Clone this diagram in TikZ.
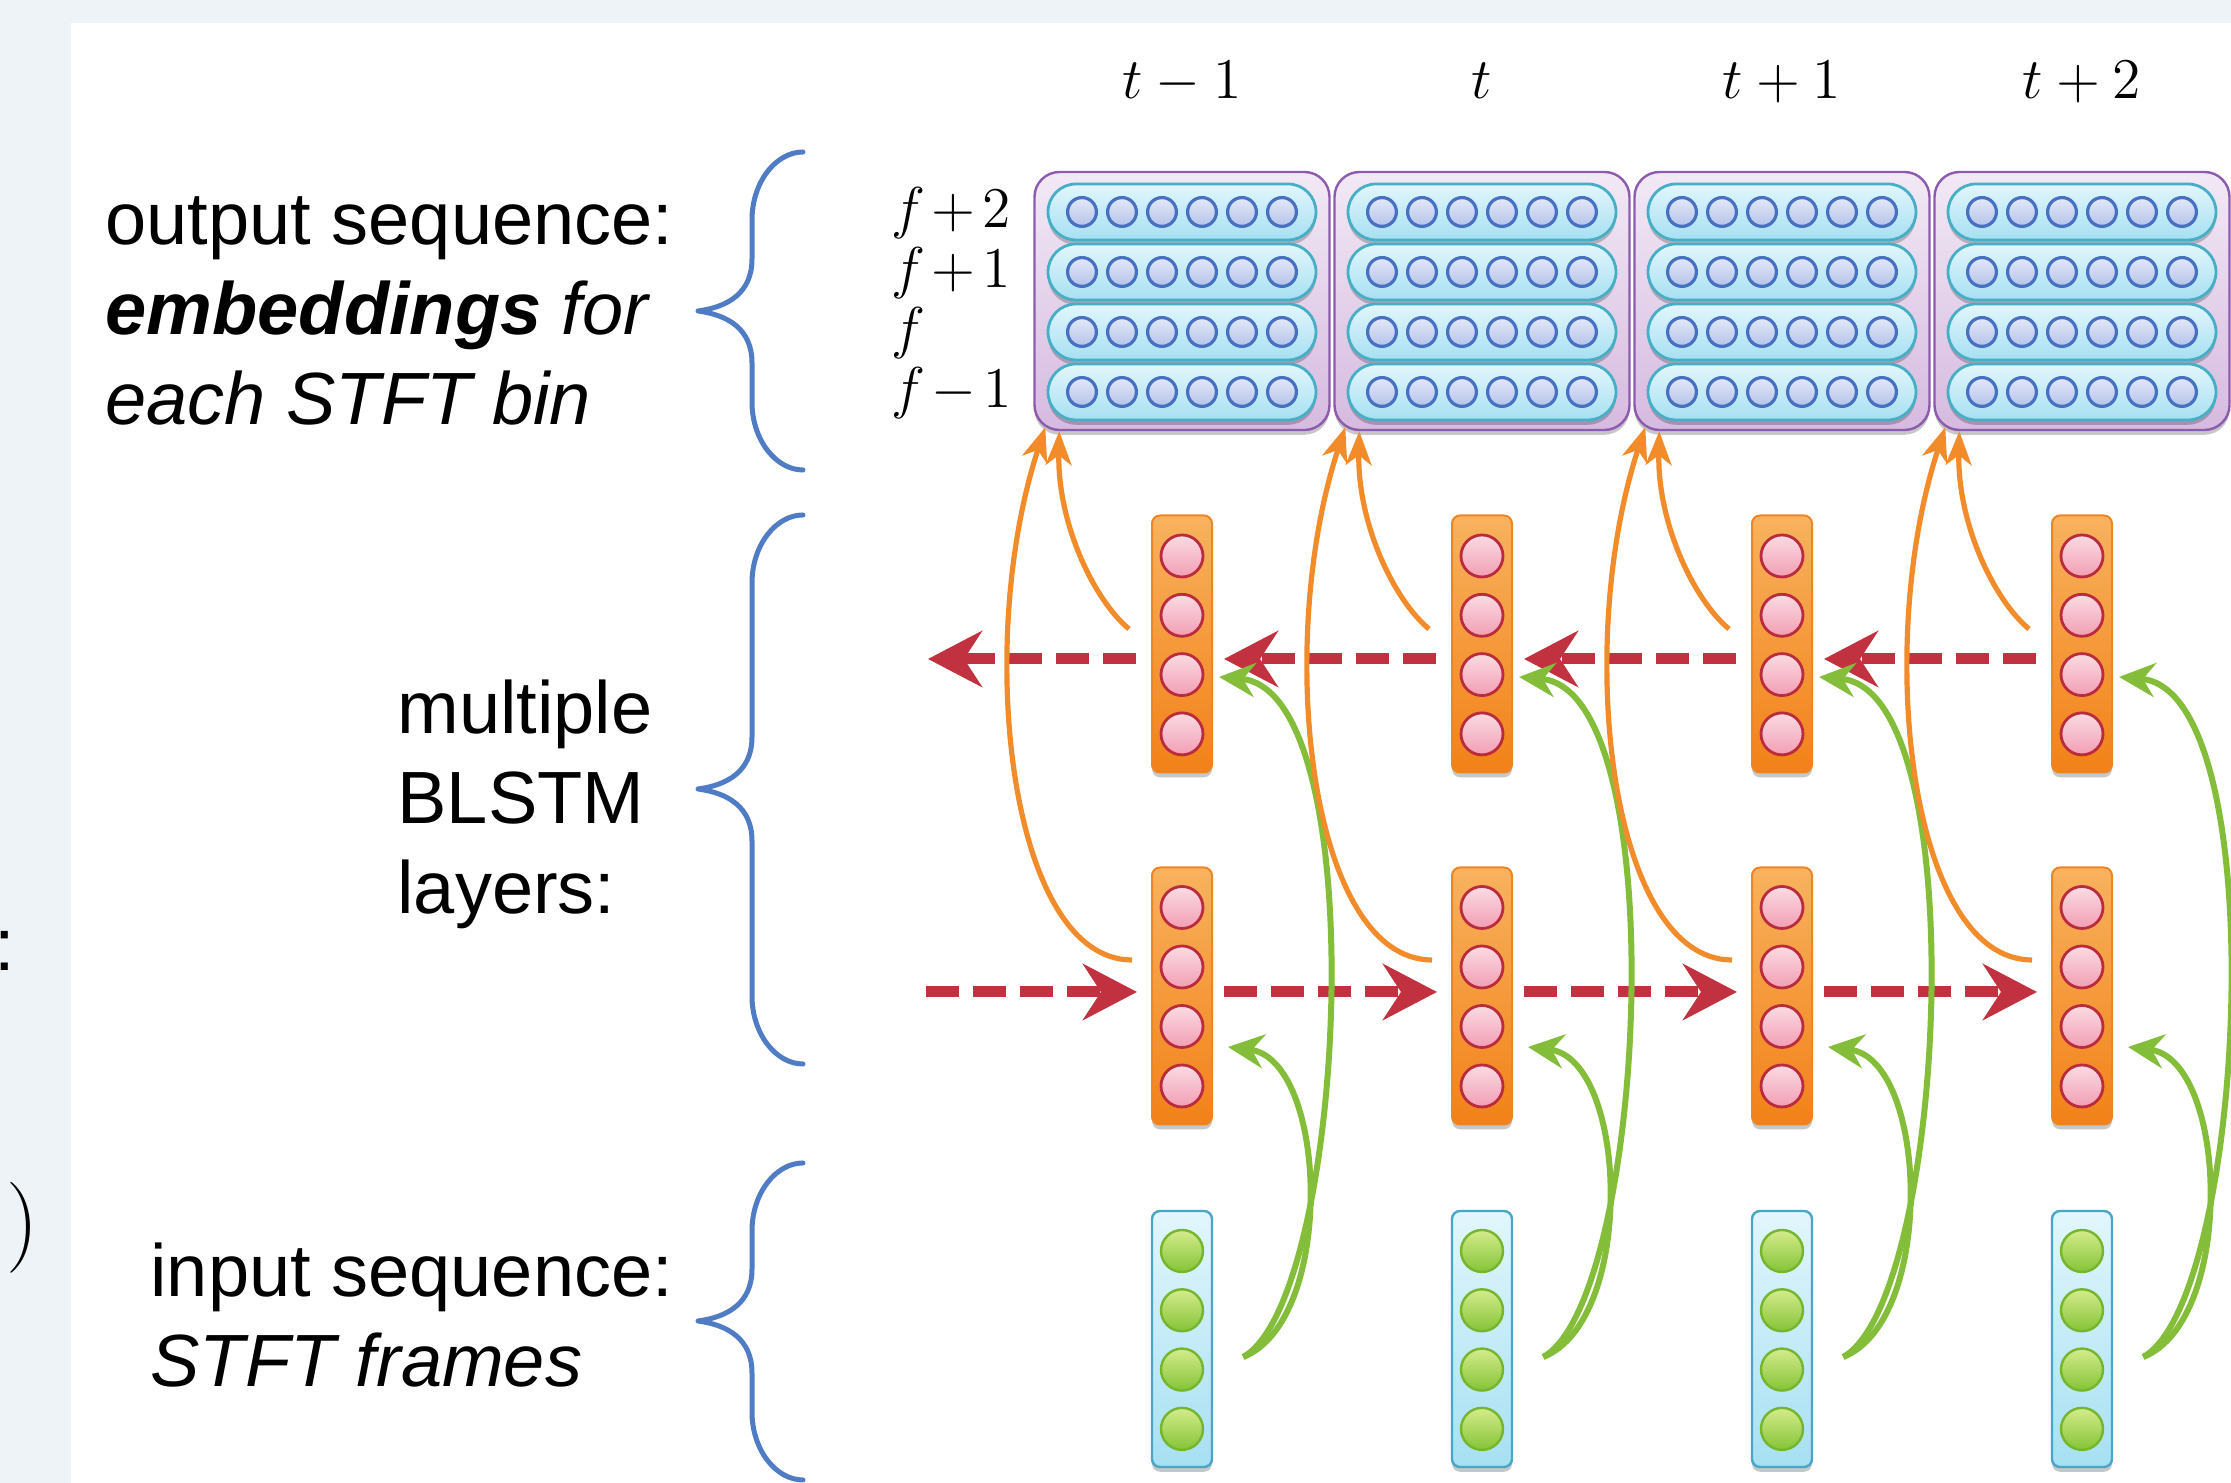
\documentclass[tikz,border=0pt]{standalone}
\usepackage[no-math]{fontspec}
\newfontfamily\labelfont{Liberation Sans}
\usetikzlibrary{arrows.meta,calc,shadows}

\definecolor{slidegray}{RGB}{237,243,247}
\definecolor{boxpurple}{RGB}{141,91,174}
\definecolor{boxtop}{RGB}{242,233,245}
\definecolor{boxbot}{RGB}{214,186,224}
\definecolor{pillline}{RGB}{70,175,198}
\definecolor{pilltop}{RGB}{226,246,252}
\definecolor{pillbot}{RGB}{166,224,242}
\definecolor{embline}{RGB}{70,112,192}
\definecolor{embtop}{RGB}{228,233,249}
\definecolor{embbot}{RGB}{180,195,234}
\definecolor{barline}{RGB}{238,132,34}
\definecolor{bartop}{RGB}{248,178,94}
\definecolor{barbot}{RGB}{242,129,24}
\definecolor{unitline}{RGB}{185,43,61}
\definecolor{unittop}{RGB}{251,219,227}
\definecolor{unitbot}{RGB}{242,158,180}
\definecolor{inline}{RGB}{74,166,199}
\definecolor{greenline}{RGB}{118,181,46}
\definecolor{greentop}{RGB}{212,236,140}
\definecolor{greenbot}{RGB}{132,196,54}
\definecolor{redarrow}{RGB}{193,49,63}
\definecolor{orangearrow}{RGB}{242,139,42}
\definecolor{greenarrow}{RGB}{132,189,58}
\definecolor{bracecol}{RGB}{79,124,196}

\tikzset{every picture/.style={line width=0.75pt}}
\tikzset{
  softshadow/.style={drop shadow={shadow xshift=0pt,shadow yshift=-1.2pt,opacity=0.22,fill=black}},
  outbox/.style={draw=boxpurple,line width=0.6pt,rounded corners=6.25pt,top color=boxtop,bottom color=boxbot,
    minimum width=73.75pt,minimum height=64.5pt,inner sep=0pt,softshadow},
  pill/.style={draw=pillline,line width=0.7pt,rounded corners=7pt,top color=pilltop,bottom color=pillbot,
    minimum width=67pt,minimum height=14pt,inner sep=0pt,softshadow},
  emb/.style={circle,draw=embline,line width=0.8pt,top color=embtop,bottom color=embbot,minimum size=7.2pt,inner sep=0pt},
  bar/.style={draw=barline,line width=0.5pt,rounded corners=2pt,top color=bartop,bottom color=barbot,
    minimum width=15pt,minimum height=64.25pt,inner sep=0pt,softshadow},
  inbar/.style={draw=inline,line width=0.6pt,rounded corners=2pt,top color=pilltop,bottom color=pillbot,
    minimum width=15pt,minimum height=64pt,inner sep=0pt,softshadow},
  unit/.style={circle,draw=unitline,line width=0.7pt,top color=unittop,bottom color=unitbot,minimum size=10.5pt,inner sep=0pt},
  inunit/.style={circle,draw=greenline,line width=0.6pt,top color=greentop,bottom color=greenbot,minimum size=10.5pt,inner sep=0pt},
  tlabel/.style={anchor=base,inner sep=0pt,font=\fontsize{14.5}{17}\selectfont},
  flabel/.style={anchor=base west,inner sep=0pt,font=\fontsize{14.5}{17}\selectfont},
  sidetext/.style={anchor=base west,align=left,inner sep=0pt,font=\labelfont\fontsize{18.5}{22.6}\selectfont},
  backflow/.style={draw=redarrow,line width=2.75pt,dash pattern=on 8.25pt off 3.5pt,
    -{Stealth[length=13.5pt,width=14pt,inset=4.5pt]}},
  upflow/.style={draw=orangearrow,line width=1.3pt,-{Stealth[length=8.5pt,width=6.5pt,inset=2.5pt]}},
  skipflow/.style={draw=greenarrow,line width=1.5pt,-{Stealth[length=9pt,width=8.5pt,inset=3pt]}},
  brace/.style={draw=bracecol,line width=1.25pt,line cap=round,line join=round}
}

\begin{document}
\begin{tikzpicture}[x=0.25pt,y=0.25pt,yscale=-1,xscale=1]
    \useasboundingbox (0,0) rectangle (2231,1483);

    %Shape: slide background
    \fill[slidegray] (0,0) rectangle (2231,1483);
    \fill[white] (71,23) rectangle (2231,1483);

    % Text Node: cut-off pieces of the neighbouring slide
    \node[anchor=base west,inner sep=0pt,font=\labelfont\fontsize{18.5}{22.6}\selectfont] (colonfrag) at (-7,971) {:};
    \node[anchor=base west,inner sep=0pt,font=\fontsize{22.75}{27}\selectfont] (parenfrag) at (5,1251) {)};

    % columns: output embeddings, two BLSTM layers, input frames
    \foreach \i/\lab in {1/t-1,2/t,3/t+1,4/t+2}{
      \pgfmathsetmacro{\cx}{1182+300*(\i-1)}
      \node[tlabel] (tl\i) at (\cx,99) {$\lab$};
      \node[outbox] (out\i) at (\cx,301) {};
      \foreach \r/\ry in {1/212,2/272,3/332,4/392}{
        \node[pill] (pill\i\r) at (\cx,\ry) {};
        \foreach \k in {1,...,6}
          \node[emb] (emb\i\r\k) at (\cx-140+40*\k,\ry) {};
      }
      \node[bar] (ub\i) at (\cx,644) {};
      \node[bar] (lb\i) at (\cx,996) {};
      \node[inbar] (ib\i) at (\cx,1339) {};
      \foreach \k in {1,...,4}{
        \node[unit] (uu\i\k) at (\cx,496.7+59.3*\k) {};
        \node[unit] (lu\i\k) at (\cx,848+59.5*\k) {};
        \node[inunit] (iu\i\k) at (\cx,1191.7+59.3*\k) {};
      }
    }

    % Text Node: frequency rows
    \node[flabel] (flab1) at (890,228) {$f\mkern2mu{+}\mkern2mu2$};
    \node[flabel] (flab2) at (890,288) {$f\mkern2mu{+}\mkern2mu1$};
    \node[flabel] (flab3) at (890,348) {$f$};
    \node[flabel] (flab4) at (890,408) {$f\mkern2mu{-}\mkern2mu1$};

    %Straight Lines: recurrent connections
    \coordinate (uend) at (928,659);
    \coordinate (lstart) at (926,992);
    \draw[backflow] ($(ub1.west)+(-15,15)$) -- (uend);
    \draw[backflow] (lstart) -- ($(lb1.west)+(-14,-4)$);
    \foreach \i/\j in {1/2,2/3,3/4}{
      \draw[backflow] ($(ub\j.west)+(-15,15)$) -- ($(ub\i.east)+(11,15)$);
      \draw[backflow] ($(lb\i.east)+(11,-4)$) -- ($(lb\j.west)+(-14,-4)$);
    }

    %Curve Lines: layer outputs and skip inputs
    \foreach \i in {1,...,4}{
      \draw[upflow] ($(ub\i.west)+(-22,-15)$) .. controls +(-35,-29) and +(-2,92) .. ($(out\i.south west)+(26,0)$);
      \draw[upflow] ($(lb\i.west)+(-19,-36)$) .. controls +(-123,0) and +(-71,216) .. ($(out\i.south west)+(12,-4)$);
      \coordinate (gs\i) at ($(ib\i.east)+(30,18)$);
      \draw[skipflow] (gs\i) .. controls +(93,-37) and +(100,12) .. ($(lb\i.east)+(15,51)$);
      \draw[skipflow] (gs\i) .. controls +(103,-57) and +(157,13) .. ($(ub\i.east)+(6,33)$);
    }

    %Shape: braces
    \foreach \ytop/\ymid/\ybot in {152/311/470,515/789/1064,1163/1321/1480}
      \draw[brace] (803,\ytop) .. controls (776,\ytop) and (752,\ytop+30) .. (752,\ytop+68)
        -- (752,\ymid-52) .. controls (752,\ymid-18) and (728,\ymid-4) .. (698,\ymid)
        .. controls (728,\ymid+4) and (752,\ymid+18) .. (752,\ymid+52)
        -- (752,\ybot-68) .. controls (752,\ybot-30) and (776,\ybot) .. (803,\ybot);

    % Text Node (base = last line)
    \node[sidetext] (outtext) at (104,425) {output sequence:\\\textbf{\textit{embeddings}} \textit{for}\\\textit{each STFT bin}};
    % Text Node
    \node[sidetext] (blstmtext) at (396,914) {multiple\\BLSTM\\layers:};
    % Text Node
    \node[sidetext] (intext) at (149,1387) {input sequence:\\\textit{STFT frames}};
\end{tikzpicture}
\end{document}
